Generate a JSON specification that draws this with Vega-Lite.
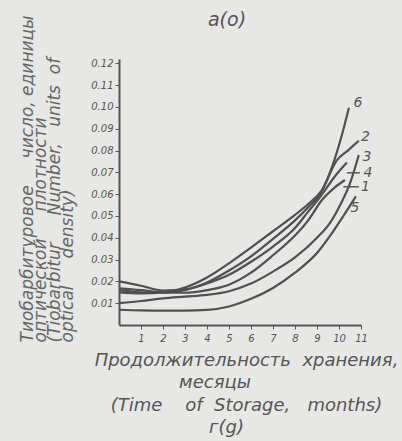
{
  "$schema": "https://vega.github.io/schema/vega-lite/v6.json",
  "width": 242,
  "height": 266,
  "autosize": {"type": "none"},
  "padding": {"left": 119, "top": 59, "right": 41, "bottom": 116},
  "background": "#e7e7e5",
  "title": {"text": "а(о)", "fontSize": 19, "fontStyle": "italic", "fontWeight": "normal", "font": "DejaVu Sans", "color": "#555", "dx": -13, "dy": 67, "offset": 33, "frame": "group", "baseline": "bottom"},
  "config": {"view": {"stroke": null}, "font": "DejaVu Sans", "axis": {"labelOverlap": false, "labelFlush": false}},
  "datasets": {
    "curves": [
      {"curve": "6", "month": 0, "value": 0.020}, {"curve": "6", "month": 1, "value": 0.018}, {"curve": "6", "month": 2, "value": 0.0158}, {"curve": "6", "month": 3, "value": 0.0163}, {"curve": "6", "month": 4, "value": 0.0195}, {"curve": "6", "month": 5, "value": 0.025}, {"curve": "6", "month": 6, "value": 0.0315}, {"curve": "6", "month": 7, "value": 0.0395}, {"curve": "6", "month": 8, "value": 0.048}, {"curve": "6", "month": 8.6, "value": 0.054}, {"curve": "6", "month": 9.2, "value": 0.061}, {"curve": "6", "month": 9.7, "value": 0.073}, {"curve": "6", "month": 10.1, "value": 0.086}, {"curve": "6", "month": 10.45, "value": 0.0996},
      {"curve": "2", "month": 0, "value": 0.016}, {"curve": "2", "month": 1, "value": 0.015}, {"curve": "2", "month": 2, "value": 0.0148}, {"curve": "2", "month": 3, "value": 0.0172}, {"curve": "2", "month": 4, "value": 0.0218}, {"curve": "2", "month": 5, "value": 0.0283}, {"curve": "2", "month": 6, "value": 0.0355}, {"curve": "2", "month": 7, "value": 0.043}, {"curve": "2", "month": 8, "value": 0.0505}, {"curve": "2", "month": 8.6, "value": 0.0555}, {"curve": "2", "month": 9.2, "value": 0.0615}, {"curve": "2", "month": 9.9, "value": 0.0755}, {"curve": "2", "month": 10.4, "value": 0.080}, {"curve": "2", "month": 10.9, "value": 0.0845},
      {"curve": "4", "month": 0, "value": 0.015}, {"curve": "4", "month": 1, "value": 0.0145}, {"curve": "4", "month": 2, "value": 0.0148}, {"curve": "4", "month": 3, "value": 0.016}, {"curve": "4", "month": 4, "value": 0.019}, {"curve": "4", "month": 5, "value": 0.023}, {"curve": "4", "month": 6, "value": 0.029}, {"curve": "4", "month": 7, "value": 0.036}, {"curve": "4", "month": 8, "value": 0.0445}, {"curve": "4", "month": 8.6, "value": 0.052}, {"curve": "4", "month": 9.2, "value": 0.0595}, {"curve": "4", "month": 9.8, "value": 0.068}, {"curve": "4", "month": 10.36, "value": 0.0745},
      {"curve": "1", "month": 0, "value": 0.0168}, {"curve": "1", "month": 1, "value": 0.016}, {"curve": "1", "month": 2, "value": 0.015}, {"curve": "1", "month": 3, "value": 0.0148}, {"curve": "1", "month": 4, "value": 0.016}, {"curve": "1", "month": 5, "value": 0.0185}, {"curve": "1", "month": 6, "value": 0.024}, {"curve": "1", "month": 7, "value": 0.032}, {"curve": "1", "month": 8, "value": 0.041}, {"curve": "1", "month": 8.6, "value": 0.048}, {"curve": "1", "month": 9.2, "value": 0.057}, {"curve": "1", "month": 9.8, "value": 0.063}, {"curve": "1", "month": 10.27, "value": 0.0665},
      {"curve": "3", "month": 0, "value": 0.010}, {"curve": "3", "month": 1, "value": 0.011}, {"curve": "3", "month": 2, "value": 0.0122}, {"curve": "3", "month": 3, "value": 0.013}, {"curve": "3", "month": 4, "value": 0.0138}, {"curve": "3", "month": 5, "value": 0.0155}, {"curve": "3", "month": 6, "value": 0.019}, {"curve": "3", "month": 7, "value": 0.0245}, {"curve": "3", "month": 8, "value": 0.031}, {"curve": "3", "month": 9, "value": 0.040}, {"curve": "3", "month": 9.6, "value": 0.047}, {"curve": "3", "month": 10.1, "value": 0.056}, {"curve": "3", "month": 10.5, "value": 0.065}, {"curve": "3", "month": 10.9, "value": 0.078},
      {"curve": "5", "month": 0, "value": 0.007}, {"curve": "5", "month": 1, "value": 0.0067}, {"curve": "5", "month": 2, "value": 0.0066}, {"curve": "5", "month": 3, "value": 0.0066}, {"curve": "5", "month": 4, "value": 0.0069}, {"curve": "5", "month": 5, "value": 0.0085}, {"curve": "5", "month": 6, "value": 0.012}, {"curve": "5", "month": 7, "value": 0.017}, {"curve": "5", "month": 8, "value": 0.024}, {"curve": "5", "month": 9, "value": 0.033}, {"curve": "5", "month": 9.6, "value": 0.041}, {"curve": "5", "month": 10.2, "value": 0.050}, {"curve": "5", "month": 10.77, "value": 0.059}
    ],
    "labels": [
      {"label": "6", "month": 10.86, "value": 0.102},
      {"label": "2", "month": 11.2, "value": 0.086},
      {"label": "3", "month": 11.27, "value": 0.0771},
      {"label": "4", "month": 11.32, "value": 0.0698},
      {"label": "1", "month": 11.2, "value": 0.0634},
      {"label": "5", "month": 10.73, "value": 0.0537}
    ],
    "leaders": [
      {"label": "4", "month": 10.36, "month2": 10.95, "value": 0.0698},
      {"label": "1", "month": 10.2, "month2": 10.9, "value": 0.0634}
    ]
  },
  "encoding": {
    "x": {"field": "month", "type": "quantitative", "scale": {"domain": [0, 11], "nice": false, "zero": false},
      "axis": {"values": [1,2,3,4,5,6,7,8,9,10,11], "labelOverlap": false, "labelFlush": false, "labelFontSize": 10, "labelFontStyle": "italic", "labelColor": "#555", "labelPadding": 4, "tickSize": 4, "tickColor": "#555", "domainColor": "#555", "domainWidth": 2, "grid": false,
        "title": ["Продолжительность\u00a0\u00a0хранения,", "месяцы\u00a0\u00a0\u00a0\u00a0\u00a0\u00a0\u00a0\u00a0\u00a0\u00a0\u00a0\u200b", "(Time\u00a0\u00a0\u00a0\u00a0of\u00a0\u00a0Storage,\u00a0\u00a0\u00a0months)", "г(g)\u00a0\u00a0\u00a0\u00a0\u00a0\u00a0\u00a0\u200b"],
        "titleFontSize": 18, "titleFontStyle": "italic", "titleFontWeight": "normal", "titleColor": "#555", "titleLineHeight": 22.5, "titleBaseline": "top", "titleY": 26, "titleX": 127}},
    "y": {"field": "value", "type": "quantitative", "scale": {"domain": [0, 0.122], "nice": false, "zero": false},
      "axis": {"values": [0.01,0.02,0.03,0.04,0.05,0.06,0.07,0.08,0.09,0.10,0.11,0.12], "labelOverlap": false, "labelFlush": false, "format": ".2f", "labelFontSize": 10, "labelFontStyle": "italic", "labelColor": "#555", "labelPadding": 2, "tickSize": 4, "tickColor": "#555", "domainColor": "#555", "domainWidth": 2, "grid": false,
        "title": ["Тиобарбитуровое\u00a0\u00a0\u00a0\u00a0\u00a0число,\u00a0единицы", "оптической\u00a0\u00a0\u00a0\u00a0\u00a0плотности", "(Tiobarbitur\u00a0\u00a0\u00a0\u00a0\u00a0Number,\u00a0\u00a0\u00a0units\u00a0\u00a0of", "optical\u00a0\u00a0\u00a0\u00a0\u00a0density)"],
        "titleAngle": 270, "titleAlign": "left", "titleBaseline": "top", "titleX": -100, "titleY": 283, "titleFontSize": 17, "titleFontStyle": "italic", "titleFontWeight": "normal", "titleColor": "#666", "titleLineHeight": 13.5}}
  },
  "layer": [
    {
      "data": {"name": "curves"},
      "mark": {"type": "line", "interpolate": "monotone", "color": "#505050", "strokeWidth": 2.2},
      "encoding": {"detail": {"field": "curve"}}
    },
    {
      "data": {"name": "leaders"},
      "mark": {"type": "rule", "color": "#585858", "strokeWidth": 1.5},
      "encoding": {"x2": {"field": "month2"}}
    },
    {
      "data": {"name": "labels"},
      "mark": {"type": "text", "fontSize": 14, "fontStyle": "italic", "color": "#555", "align": "center", "baseline": "middle"},
      "encoding": {"text": {"field": "label"}}
    }
  ]
}
